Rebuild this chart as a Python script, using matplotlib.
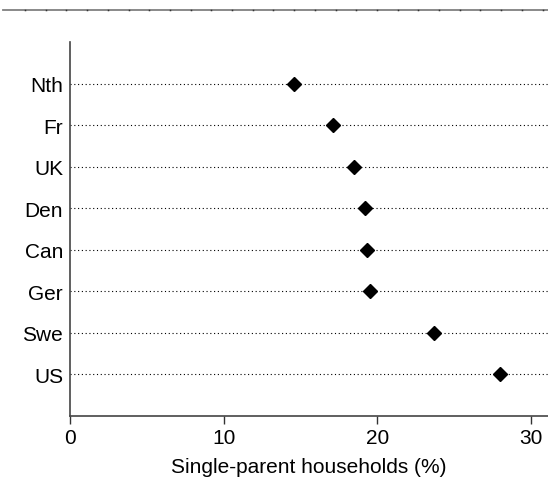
import matplotlib.pyplot as plt
import numpy as np
from matplotlib.lines import Line2D

plt.rcParams['font.family'] = ['Liberation Sans', 'DejaVu Sans']

countries = ['US', 'Swe', 'Ger', 'Can', 'Den', 'UK', 'Fr', 'Nth']
single_parent = [28.0, 23.7, 19.5, 19.3, 19.2, 18.5, 17.1, 14.6]
xticks = [0, 10, 20, 30]

fig = plt.figure(figsize=(5.48, 4.85), dpi=100)
ax = fig.add_axes([70/548, 68/485, 478/548, 374/485])

ypos = np.arange(len(countries))
for y in ypos:
    ax.axhline(y, color='black', lw=0.8, ls=(0, (1, 2.4)), zorder=1)
ax.plot(single_parent, ypos, 'D', color='black', markersize=7.3, zorder=3, clip_on=False)

ax.set_xlim(0, 31.1)
ax.set_ylim(-1, 8)
ax.set_xticks(xticks)
ax.set_yticks(ypos)
ax.set_yticklabels(countries)
ax.tick_params(axis='y', length=0, pad=5, labelsize=15)
ax.tick_params(axis='x', length=6, width=1, direction='out', labelsize=15, pad=3, color='#333333')
ax.spines['top'].set_visible(False)
ax.spines['right'].set_visible(False)
for s in ['left', 'bottom']:
    ax.spines[s].set_color('#444444')
    ax.spines[s].set_linewidth(1.2)
ax.set_xlabel('Single-parent households (%)', fontsize=15, labelpad=7)

# cropped rule along the top edge
xs = np.linspace(3/548, 1, 2)
fig.add_artist(Line2D(xs, [1 - 11/485] * 2, color='#808080', lw=1.3))
dots = np.arange(25, 548, 20.7) / 548
fig.add_artist(Line2D(dots, [1 - 11/485] * len(dots), ls='none', marker='s',
                      markersize=1.1, color='#333333', markeredgewidth=0))

plt.savefig('out.png', dpi=100)
